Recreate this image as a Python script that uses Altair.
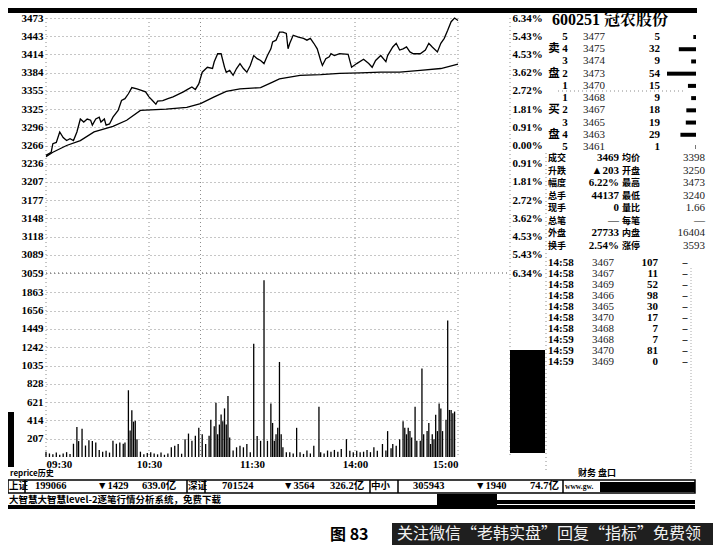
import altair as alt
import pandas as pd

# ---------------- data ----------------
price_minute = [0, 3, 4, 6, 8, 10, 12, 14, 16, 18, 20, 22, 24, 26, 27, 29, 31, 32, 34, 35, 37, 39, 42, 44, 46,
                48, 50, 53, 56, 58, 60, 62, 64, 65, 68, 71, 74, 77, 80, 83, 85, 87, 89, 91, 94, 97, 98, 100, 102,
                104, 105, 107, 109, 111, 113, 115, 117, 119, 121, 123, 125, 127, 129, 131, 132, 134, 136, 138, 140,
                141, 142, 144, 147, 150, 152, 154, 156, 158, 160, 161, 163, 165, 166, 168, 171, 176, 178, 181, 185,
                188, 190, 192, 195, 198, 199, 202, 204, 206, 208, 210, 212, 214, 218, 221, 223, 225, 228, 230, 232,
                234, 236, 238, 240]
price_value = [3250, 3255, 3269, 3271, 3288, 3279, 3274, 3277, 3274, 3288, 3309, 3304, 3309, 3307, 3299, 3309,
               3312, 3304, 3309, 3299, 3301, 3312, 3323, 3339, 3342, 3350, 3360, 3358, 3355, 3353, 3345, 3339, 3333,
               3338, 3339, 3342, 3345, 3349, 3353, 3358, 3361, 3357, 3366, 3385, 3393, 3391, 3402, 3415, 3415, 3393,
               3385, 3388, 3380, 3391, 3399, 3391, 3385, 3396, 3412, 3407, 3404, 3399, 3412, 3423, 3434, 3437, 3450,
               3450, 3448, 3423, 3432, 3445, 3442, 3440, 3437, 3440, 3432, 3423, 3404, 3396, 3407, 3410, 3415, 3412,
               3415, 3414, 3393, 3399, 3406, 3399, 3393, 3404, 3412, 3402, 3412, 3426, 3432, 3421, 3423, 3426, 3418,
               3415, 3415, 3421, 3432, 3426, 3418, 3432, 3440, 3453, 3467, 3473, 3469]

avg_minute = [0, 4, 12, 20, 28, 39, 47, 55, 70, 82, 90, 98, 105, 113, 125, 132, 136, 148, 160, 171, 183, 195,
              206, 218, 230, 240]
avg_value = [3248, 3255, 3266, 3274, 3288, 3297, 3307, 3323, 3325, 3328, 3334, 3345, 3354, 3358, 3360, 3369, 3374,
             3380, 3381, 3383, 3384, 3385, 3385, 3388, 3391, 3398]

vol_minute = [0, 2, 4, 6, 8, 10, 12, 14, 16, 18, 19, 21, 23, 25, 27, 29, 31, 33, 35, 37, 39, 41, 43, 45, 46, 48,
              49, 50, 51, 52, 53, 55, 57, 59, 61, 63, 65, 67, 69, 71, 73, 75, 77, 79, 81, 83, 85, 87, 89, 91, 93,
              95, 96, 98, 99, 100, 101, 102, 103, 104, 105, 106, 107, 109, 111, 113, 115, 117, 119, 121, 123, 125,
              127, 129, 131, 132, 133, 134, 135, 136, 137, 138, 140, 142, 144, 146, 148, 150, 152, 154, 156, 159,
              160, 162, 164, 166, 168, 170, 172, 175, 177, 179, 181, 183, 185, 187, 189, 191, 193, 196, 198, 199,
              201, 202, 204, 206, 208, 209, 210, 211, 212, 213, 215, 216, 218, 219, 220, 222, 223, 224, 225, 226,
              227, 228, 229, 230, 231, 233, 234, 235, 236, 237, 238]
vol_value = [60, 40, 30, 50, 25, 40, 55, 35, 150, 340, 180, 320, 130, 190, 180, 165, 80, 60, 70, 50, 183, 150, 165,
             150, 165, 755, 300, 530, 400, 410, 200, 60, 30, 45, 55, 40, 30, 50, 25, 40, 110, 128, 147, 37, 202,
             265, 183, 240, 330, 257, 147, 240, 420, 349, 615, 257, 367, 480, 404, 550, 367, 690, 220, 73, 110, 128,
             110, 147, 55, 1280, 238, 183, 2000, 183, 605, 385, 183, 257, 330, 1075, 257, 110, 55, 55, 40, 330, 55,
             35, 73, 40, 128, 569, 55, 40, 73, 60, 80, 60, 90, 202, 70, 55, 70, 55, 60, 80, 55, 110, 70, 147, 73,
             293, 100, 147, 128, 200, 404, 330, 257, 330, 293, 220, 569, 183, 183, 1000, 257, 293, 385, 147, 257,
             202, 477, 293, 605, 550, 293, 422, 1545, 532, 532, 495, 514]

price_ticks = [3059, 3089, 3118, 3148, 3177, 3207, 3236, 3266, 3296, 3325, 3355, 3384, 3414, 3443, 3473]
vol_ticks = [207, 414, 621, 828, 1035, 1242, 1449, 1656, 1863]
pct_ticks = [-6.34, -5.43, -4.53, -3.62, -2.72, -1.81, -0.91, 0.0, 0.91, 1.81, 2.72, 3.62, 4.53, 5.43, 6.34]
time_ticks = [0, 60, 120, 180, 240]
time_labels = ["09:30", "10:30", "11:30", "14:00", "15:00"]
grid_minutes = [60, 90, 180, 240]

stock_title = "600251 冠农股份"
ob_level = ["5", "4", "3", "2", "1", "1", "2", "3", "4", "5"]
ob_price = [3477, 3475, 3474, 3473, 3470, 3468, 3467, 3465, 3463, 3461]
ob_vol = [5, 32, 9, 54, 15, 9, 18, 19, 29, 1]
ob_side_row = [1, 3, 6, 8]
ob_side_char = ["卖", "盘", "买", "盘"]

stat_label1 = ["成交", "升跌", "幅度", "总手", "现手", "总笔", "外盘", "换手"]
stat_value1 = ["3469", "▲203", "6.22%", "44137", "0", "—", "27733", "2.54%"]
stat_label2 = ["均价", "开盘", "最高", "最低", "量比", "每笔", "内盘", "涨停"]
stat_value2 = ["3398", "3250", "3473", "3240", "1.66", "—", "16404", "3593"]

tick_time = ["14:58", "14:58", "14:58", "14:58", "14:58", "14:58", "14:58", "14:59", "14:59", "14:59"]
tick_price = [3467, 3467, 3469, 3466, 3465, 3470, 3468, 3468, 3470, 3469]
tick_vol = [107, 11, 52, 98, 30, 17, 7, 7, 81, 0]

status_row1 = ["上证", "199066", "▼1429", "639.0亿", "深证", "701524", "▼3564", "326.2亿", "中小", "305943",
               "▼1940", "74.7亿"]
status_row2 = "大智慧大智慧level-2逐笔行情分析系统，免费下载"
caption = "图 83"
watermark = "关注微信“老韩实盘”回复“指标”免费领"

# ---------------- styling ----------------
NUM = "Liberation Serif, DejaVu Sans, Noto Sans CJK SC"
CJK = "Noto Sans CJK SC"
GRID = "#8c8c8c"
W, H = 464, 439

x_time = alt.Scale(domain=[0, 240], range=[0, 412], nice=False, zero=False)
y_price = alt.Scale(domain=[3059, 3473], range=[255, 0], nice=False, zero=False)
y_vol = alt.Scale(domain=[0, 2070], range=[H, 256], nice=False)
y_pct = alt.Scale(domain=[-6.34, 6.34], range=[255, 0], nice=False, zero=False)


def one():
    return alt.Chart(pd.DataFrame({"k": [0]}))


def label(text, x, y, size=11, font=NUM, weight="bold", align="left", color="black"):
    return one().mark_text(text=text, align=align, baseline="middle", font=font, fontSize=size,
                           fontWeight=weight, color=color).encode(x=alt.value(x), y=alt.value(y))


def box(x1, x2, y1, y2, fill="black", stroke=None, sw=1):
    kw = {"fill": fill}
    if stroke:
        kw.update(stroke=stroke, strokeWidth=sw)
    return one().mark_rect(**kw).encode(x=alt.value(x1), x2=alt.value(x2), y=alt.value(y1), y2=alt.value(y2))


def vline(x, y1, y2, color=GRID, dash=(1, 3), width=1):
    return one().mark_rule(color=color, strokeDash=list(dash), strokeWidth=width).encode(
        x=alt.value(x), y=alt.value(y1), y2=alt.value(y2))


def hline(x1, x2, y, color=GRID, dash=(1, 3), width=1):
    return one().mark_rule(color=color, strokeDash=list(dash), strokeWidth=width).encode(
        x=alt.value(x1), x2=alt.value(x2), y=alt.value(y))


axis_common = dict(ticks=False, domain=False, labelFont=NUM, labelFontSize=11, labelFontWeight="bold",
                   labelColor="black", title=None)

price_df = pd.DataFrame({"minute": price_minute, "price": price_value})
avg_df = pd.DataFrame({"minute": avg_minute, "price": avg_value})
vol_df = pd.DataFrame({"minute": vol_minute, "vol": vol_value})

price_line = alt.Chart(price_df).mark_line(color="black", strokeWidth=1.3).encode(
    x=alt.X("minute:Q", scale=x_time, axis=None),
    y=alt.Y("price:Q", scale=y_price,
            axis=alt.Axis(orient="left", values=price_ticks, format="d", grid=True, gridColor=GRID,
                          gridDash=[1, 3], labelPadding=3, **axis_common)))

avg_line = alt.Chart(avg_df).mark_line(color="black", strokeWidth=1.3).encode(
    x=alt.X("minute:Q", scale=x_time, axis=None),
    y=alt.Y("price:Q", scale=y_price, axis=None))

time_expr = " : ".join(f"datum.value == {m} ? '{l}'" for m, l in zip(time_ticks, time_labels)) + " : ''"

vol_bars = alt.Chart(vol_df).mark_rule(color="black", strokeWidth=1.3).encode(
    x=alt.X("minute:Q", scale=x_time,
            axis=alt.Axis(orient="bottom", values=time_ticks, labelExpr=time_expr, labelPadding=1,
                          grid=False, labelFontSize=11, labelFont=NUM, labelFontWeight="bold",
                          labelColor="black", ticks=False, domain=False, title=None)),
    y=alt.Y("vol:Q", scale=y_vol,
            axis=alt.Axis(orient="left", values=vol_ticks, format="d", grid=True, gridColor=GRID,
                          gridDash=[1, 3], labelPadding=3, **axis_common)),
    y2=alt.datum(0))

pct_axis = alt.Chart(pd.DataFrame({"pct": pct_ticks})).mark_point(opacity=0).encode(
    y=alt.Y("pct:Q", scale=y_pct,
            axis=alt.Axis(orient="right", values=pct_ticks, grid=False, labelPadding=2,
                          labelExpr="format(abs(datum.value), '.2f') + '%'", **axis_common)))

vgrid = alt.Chart(pd.DataFrame({"minute": grid_minutes})).mark_rule(color=GRID, strokeDash=[1, 3]).encode(
    x=alt.X("minute:Q", scale=x_time, axis=None), y=alt.value(0), y2=alt.value(H))

frame = [vline(0, 0, H), vline(W, 0, H), hline(0, W, 255, color="#555")]

# ---------------- right panel ----------------
ob_df = pd.DataFrame({"row": list(range(10)), "level": ob_level, "price": ob_price, "vol": ob_vol})
row_ob = alt.Scale(domain=[0, 9], range=[19, 129])
ob_y = alt.Y("row:Q", scale=row_ob, axis=None)
ob_layers = [
    alt.Chart(ob_df).mark_text(align="center", font=NUM, fontSize=11, fontWeight="bold").encode(
        x=alt.value(519), y=ob_y, text="level:N"),
    alt.Chart(ob_df).mark_text(align="left", font=NUM, fontSize=11, color="#222").encode(
        x=alt.value(537), y=ob_y, text="price:N"),
    alt.Chart(ob_df).mark_text(align="right", font=NUM, fontSize=11, fontWeight="bold").encode(
        x=alt.value(614), y=ob_y, text="vol:N"),
    alt.Chart(ob_df).mark_rule(color="black", strokeWidth=4).encode(
        x=alt.X("vol:Q", scale=alt.Scale(domain=[0, 54], range=[650, 621], nice=False), axis=None),
        x2=alt.value(650), y=ob_y),
    alt.Chart(pd.DataFrame({"row": ob_side_row, "ch": ob_side_char})).mark_text(
        align="center", font=CJK, fontSize=11.5, fontWeight="bold").encode(
        x=alt.value(508), y=alt.Y("row:Q", scale=row_ob, axis=None), text="ch:N"),
]

st_df = pd.DataFrame({"row": list(range(8)), "l1": stat_label1, "v1": stat_value1,
                      "l2": stat_label2, "v2": stat_value2})
st_y = alt.Y("row:Q", scale=alt.Scale(domain=[0, 7], range=[140, 228]), axis=None)
st_layers = [
    alt.Chart(st_df).mark_text(align="left", font=CJK, fontSize=9, fontWeight="bold").encode(
        x=alt.value(502), y=st_y, text="l1:N"),
    alt.Chart(st_df).mark_text(align="right", font=NUM, fontSize=11, fontWeight="bold").encode(
        x=alt.value(573), y=st_y, text="v1:N"),
    alt.Chart(st_df).mark_text(align="left", font=CJK, fontSize=9, fontWeight="bold").encode(
        x=alt.value(576), y=st_y, text="l2:N"),
    alt.Chart(st_df).mark_text(align="right", font=NUM, fontSize=11, color="#222").encode(
        x=alt.value(659), y=st_y, text="v2:N"),
]

tk_df = pd.DataFrame({"row": list(range(10)), "t": tick_time, "p": tick_price, "v": tick_vol})
tk_y = alt.Y("row:Q", scale=alt.Scale(domain=[0, 9], range=[245, 344]), axis=None)
tk_layers = [
    alt.Chart(tk_df).mark_text(align="left", font=NUM, fontSize=11, fontWeight="bold").encode(
        x=alt.value(502), y=tk_y, text="t:N"),
    alt.Chart(tk_df).mark_text(align="left", font=NUM, fontSize=11, color="#222").encode(
        x=alt.value(546), y=tk_y, text="p:N"),
    alt.Chart(tk_df).mark_text(align="right", font=NUM, fontSize=11, fontWeight="bold").encode(
        x=alt.value(612), y=tk_y, text="v:N"),
    alt.Chart(tk_df).mark_text(align="center", font=NUM, fontSize=10, fontWeight="bold", text="–").encode(
        x=alt.value(639), y=tk_y),
]

panel_misc = [
    label(stock_title, 506, 2, size=16, font="Liberation Serif, Noto Serif CJK SC, Noto Sans CJK SC"),
    hline(512, 640, 73),
    vline(500, 135, 455),
    vline(645, 250, 455, color="#aaa", dash=(1, 2)),
    box(464, 499, 332, 435),
    label("财务  盘口", 532, 455, size=9, font=CJK),
]

# ---------------- header, footer, status bars ----------------
status_x = [-37, -11, 51, 96, 142, 176, 237, 284, 325, 367, 429, 484]
deco = [
    box(-46, 651, -18, -5),
    box(-38, -32, 394, 449),
    label("reprice历史", -36, 456, size=8, font=CJK),
    box(-38, 649, 462, 475, fill="white", stroke="black", sw=1.5),
    box(554, 649, 464, 474),
    vline(-21, 462, 475, color="black", dash=(1, 0), width=1.5),
    vline(141, 462, 475, color="black", dash=(1, 0), width=1.5),
    vline(159, 462, 475, color="black", dash=(1, 0), width=1.5),
    vline(324, 462, 475, color="black", dash=(1, 0), width=1.5),
    vline(352, 462, 475, color="black", dash=(1, 0), width=1.5),
    vline(517, 462, 475, color="black", dash=(1, 0), width=1.5),
    label("www.gw.", 519, 469, size=7.5),
    box(-38, 649, 487, 491),
    box(391, 451, 476, 489),
    box(451, 649, 482, 486),
    label(status_row2, -37, 482, size=9.5, font=CJK),
    label(caption, 284, 517, size=16, font=CJK),
    box(346, 670, 505, 540, fill="#1f1f1f"),
    label(watermark, 351, 516, size=16, font=CJK, weight="normal", color="#f2f2f2"),
]
for txt, xx in zip(status_row1, status_x):
    f = CJK if txt in ("上证", "深证", "中小") else NUM
    sz = 9.5 if f == CJK else 10.5
    deco.append(label(txt, xx, 468, size=sz, font=f))

layers = [vgrid, *frame, vol_bars, avg_line, price_line, pct_axis,
          *ob_layers, *st_layers, *tk_layers, *panel_misc, *deco]

chart = alt.layer(*layers).resolve_scale(x="independent", y="independent").properties(
    width=W, height=H,
    padding={"left": 38, "top": 10, "right": 705 - 38 - W, "bottom": 537 - 10 - H},
    autosize=alt.AutoSizeParams(type="none"),
    background="white",
).configure_view(stroke=None)

chart.save("out.html", embed_options={"renderer": "svg", "actions": False})
